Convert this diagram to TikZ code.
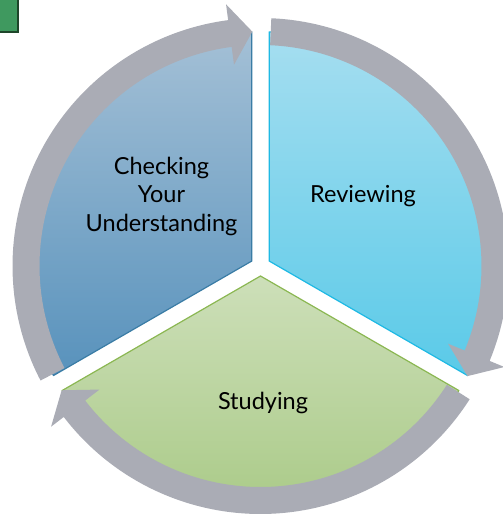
\documentclass[tikz,border=0pt]{standalone}
\usepackage{fontspec}
\setmainfont{Lato}
\usetikzlibrary{calc}

\definecolor{chkTop}{RGB}{164,192,214}
\definecolor{chkBot}{RGB}{88,146,188}
\definecolor{chkLine}{RGB}{58,124,165}
\definecolor{revTop}{RGB}{166,222,240}
\definecolor{revBot}{RGB}{90,202,232}
\definecolor{revLine}{RGB}{30,185,228}
\definecolor{stuTop}{RGB}{205,223,185}
\definecolor{stuBot}{RGB}{166,200,130}
\definecolor{stuLine}{RGB}{139,183,82}
\definecolor{ringGray}{RGB}{170,172,181}
\definecolor{boxGreen}{RGB}{63,153,95}
\definecolor{boxDark}{RGB}{30,70,42}

\begin{document}
\begin{tikzpicture}[
    x=1pt, y=1pt,
    slice/.style={line width=1.2pt, line join=round},
    ringarrow/.style={fill=ringGray, draw=none},
    label/.style={text=black, align=center, font=\fontsize{23.5}{28.5}\selectfont}
]
\useasboundingbox (0,0) rectangle (503,-517);

% ============ CORNER BOX ============
\draw[boxDark, fill=boxGreen, line width=2.5pt] (-5,5) rectangle (18,-32);

% ============ SLICES ============
\coordinate (center) at (260.5,-266);
\coordinate (v-check) at ($(center)+(150:10)$);
\coordinate (v-review) at ($(center)+(30:10)$);
\coordinate (v-study) at ($(center)+(270:10)$);

\draw[slice, draw=chkLine, top color=chkTop, bottom color=chkBot]
    (v-check) -- ++(90:229) arc[start angle=90, end angle=210, radius=229] -- cycle;
\draw[slice, draw=revLine, top color=revTop, bottom color=revBot]
    (v-review) -- ++(-30:229) arc[start angle=-30, end angle=90, radius=229] -- cycle;
\draw[slice, draw=stuLine, top color=stuTop, bottom color=stuBot]
    (v-study) -- ++(210:229) arc[start angle=210, end angle=330, radius=229] -- cycle;

% ============ CYCLE ARROWS ============
\foreach \t in {207.5, 87.5, -32.5} {
    \pgfmathsetmacro{\b}{\t-110}
    \pgfmathsetmacro{\p}{\t-115.5}
    \fill[ringarrow] ($(center)+(\t:248)$) arc[start angle=\t, end angle=\b, radius=248]
        -- ($(center)+(\b:264)$) -- ($(center)+(\p:234.5)$) -- ($(center)+(\b:203)$)
        -- ($(center)+(\b:221)$) arc[start angle=\b, end angle=\t, radius=221] -- cycle;
}

% ============ LABELS ============
\node[label] (check) at (161.5,-196) {Checking\\Your\\Understanding};
\node[label] (review) at (363,-196) {Reviewing};
\node[label] (study) at (263,-403) {Studying};

\end{tikzpicture}
\end{document}
